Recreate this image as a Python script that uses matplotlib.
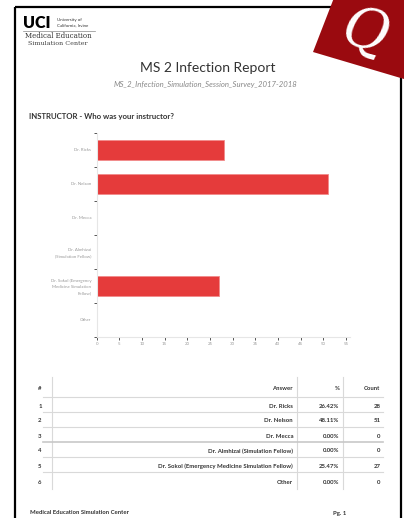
import matplotlib
matplotlib.use("Agg")
import matplotlib.pyplot as plt
from matplotlib.patches import Polygon

# ---------------- data ----------------
answers = ["Dr. Ricks", "Dr. Nelson", "Dr. Mecca", "Dr. Almhizai (Simulation Fellow)",
           "Dr. Sokol (Emergency Medicine Simulation Fellow)", "Other"]
axis_labels = ["Dr. Ricks", "Dr. Nelson", "Dr. Mecca", "Dr. Almhizai\n(Simulation Fellow)",
               "Dr. Sokol (Emergency\nMedicine Simulation\nFellow)", "Other"]
counts = [28, 51, 0, 0, 27, 0]
percents = ["26.42%", "48.11%", "0.00%", "0.00%", "25.47%", "0.00%"]
xticks = list(range(0, 60, 5))

title = "MS 2 Infection Report"
subtitle = "MS_2_Infection_Simulation_Session_Survey_2017-2018"
question = "INSTRUCTOR - Who was your instructor?"

W, H = 404, 518
DPI = 100
fig = plt.figure(figsize=(W / DPI, H / DPI), dpi=DPI)
fig.patch.set_facecolor("white")

FONT = ["Lato", "DejaVu Sans"]

# page overlay in pixel coords
pg = fig.add_axes([0, 0, 1, 1])
pg.set_xlim(0, W)
pg.set_ylim(H, 0)
pg.axis("off")

# page border
pg.plot([15, 15], [7, H], color="black", lw=1.6, solid_capstyle="butt")
pg.plot([15, 335], [7, 7], color="black", lw=1.6, solid_capstyle="butt")
pg.plot([401, 401], [70, H], color="black", lw=1.6, solid_capstyle="butt")

# red Q logo
pg.add_patch(Polygon([(337, -10), (313, 52), (404, 79), (404, -10)], closed=True,
                     facecolor="#9a0a0f", edgecolor="none", zorder=5))
pg.text(365, 33, "Q", fontsize=40, color="white", family="DejaVu Serif", style="italic",
        ha="center", va="center", rotation=-15, zorder=6)

# UCI header
pg.text(23, 23, "UCI", fontsize=11.5, fontweight="heavy", family=FONT, color="black",
        ha="left", va="center")
pg.text(57, 19.5, "University of", fontsize=3.2, family=FONT, color="#333", ha="left", va="center")
pg.text(57, 25, "California, Irvine", fontsize=3.2, family=FONT, color="#333", ha="left", va="center")
pg.plot([23, 95], [31, 31], color="#888", lw=0.5)
pg.text(58, 36, "Medical Education", fontsize=5, family="DejaVu Serif", color="#333",
        ha="center", va="center")
pg.text(58, 43.5, "Simulation Center", fontsize=4.6, family="DejaVu Serif", color="#444",
        ha="center", va="center")

pg.text(208, 68, title, fontsize=10, family=FONT, color="#333", ha="center", va="center")
pg.text(206, 85, subtitle, fontsize=5.6, family=FONT, style="italic", color="#888",
        ha="center", va="center")
pg.text(29, 117, question, fontsize=5.6, family=FONT, fontweight="bold", color="#333",
        ha="left", va="center")

# ---------------- bar chart ----------------
x0, x1, yt, yb = 96.7, 350.0, 133.0, 336.7
ax = fig.add_axes([x0 / W, 1 - yb / H, (x1 - x0) / W, (yb - yt) / H])
ypos = list(range(len(counts)))
ax.barh(ypos, counts, height=0.6, color="#e53b3b", edgecolor="#f28b8b", linewidth=0.6)
ax.set_xlim(0, 55.9)
ax.set_ylim(len(counts) - 0.5, -0.5)
for s in ["top", "right"]:
    ax.spines[s].set_visible(False)
for s in ["left", "bottom"]:
    ax.spines[s].set_color("#e6e6e6")
    ax.spines[s].set_linewidth(0.8)
ax.set_xticks(xticks)
ax.set_xticklabels([str(t) for t in xticks], fontsize=3.2, color="#999", family=FONT)
ax.tick_params(axis="x", length=2, width=0.7, color="#555", pad=2)
ax.set_yticks([i - 0.5 for i in range(len(counts) + 1)])
ax.set_yticklabels([])
ax.tick_params(axis="y", which="major", length=2, width=0.7, color="#555")
ax.set_yticks(ypos, minor=True)
ax.set_yticklabels(axis_labels, minor=True, fontsize=3.2, color="#999", family=FONT,
                   ha="right", linespacing=1.6)
ax.tick_params(axis="y", which="minor", length=0, pad=4)
ax.patch.set_alpha(0)

# ---------------- table ----------------
gl = "#d9d9d9"
row_y = [406, 420.5, 436, 451, 466, 482]
lines_y = [397.3, 412.3, 426.5, 441.7, 456.7, 472]
header_y = 388
pg.plot([51.7, 51.7], [377, 489], color=gl, lw=0.8)
pg.plot([297.3, 297.3], [377, 489], color=gl, lw=0.8)
pg.plot([342.7, 342.7], [377, 489], color=gl, lw=0.8)
for i, ly in enumerate(lines_y):
    pg.plot([43, 383], [ly, ly], color=gl if i != 3 else "#c8c8c8", lw=0.8 if i != 3 else 1.2)

tkw = dict(fontsize=4.3, family=FONT, fontweight="bold", color="#333", va="center")
pg.text(40, header_y, "#", ha="center", **tkw)
pg.text(293, header_y, "Answer", ha="right", **tkw)
pg.text(339.5, header_y, "%", ha="right", **tkw)
pg.text(380.5, header_y, "Count", ha="right", **tkw)
for i, (a, p, c) in enumerate(zip(answers, percents, counts)):
    y = row_y[i]
    pg.text(40, y, str(i + 1), ha="center", **tkw)
    pg.text(293, y, a, ha="right", **tkw)
    pg.text(339.5, y, p, ha="right", **tkw)
    pg.text(380.5, y, str(c), ha="right", **tkw)

pg.text(30, 513, "Medical Education Simulation Center", ha="left", **tkw)
pg.text(333, 513, "Pg. 1", ha="left", **tkw)

fig.savefig("out.png", dpi=DPI, facecolor="white")
